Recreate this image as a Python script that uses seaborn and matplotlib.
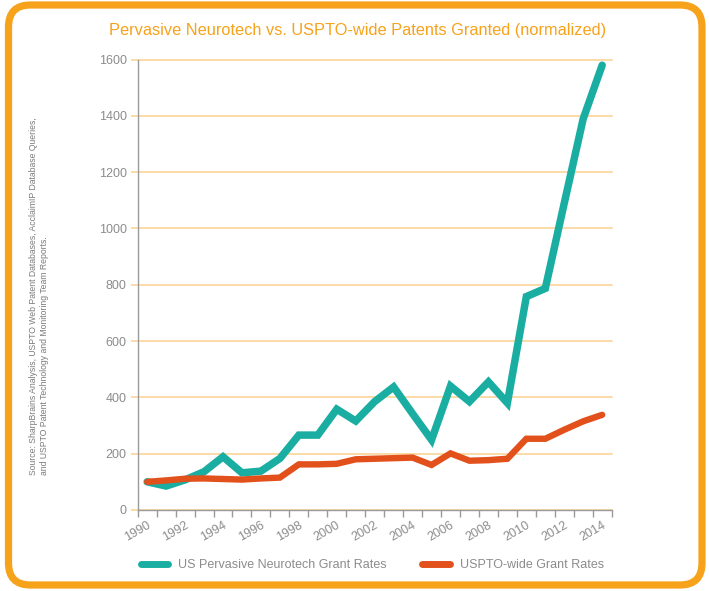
import matplotlib
matplotlib.use("Agg")
import matplotlib.pyplot as plt
from matplotlib.patches import FancyBboxPatch
from matplotlib.transforms import IdentityTransform
from matplotlib.ticker import MultipleLocator
import pandas as pd
import seaborn as sns

sns.set_theme(style="white")
plt.rcParams["font.family"] = ["Liberation Sans", "DejaVu Sans"]

# ---------------------------------------------------------------------------
# data (normalized to 1990 = 100)
# ---------------------------------------------------------------------------
years = list(range(1990, 2015))
neurotech = [100, 85, 107, 136, 189, 132, 138, 183, 266, 266,
             358, 316, 385, 437, 342, 249, 440, 385, 455, 380,
             758, 787, 1090, 1390, 1580]
uspto = [100, 105, 111, 112, 110, 108, 112, 115, 162, 162,
         164, 180, 182, 184, 186, 160, 201, 175, 177, 182,
         253, 253, 285, 315, 338]

series_names = ["US Pervasive Neurotech Grant Rates", "USPTO-wide Grant Rates"]
title = "Pervasive Neurotech vs. USPTO-wide Patents Granted (normalized)"
source = ("Source: SharpBrains Analysis, USPTO Web Patent Databases, AcclaimIP Database Queries,\n"
          "and USPTO Patent Technology and Monitoring Team Reports.")

TEAL = "#1aaea2"
RED = "#e2501c"
ORANGE = "#f7a21b"
GRID = "#fbd9a0"
GRAY = "#8c8c8c"

df = pd.DataFrame({"year": years * 2,
                   "value": neurotech + uspto,
                   "series": [series_names[0]] * len(years) + [series_names[1]] * len(years)})
# each year is drawn at the middle of its slot
df["x"] = df["year"] + 0.5

# ---------------------------------------------------------------------------
# figure
# ---------------------------------------------------------------------------
fig = plt.figure(figsize=(7.09, 5.91), dpi=100)
ax = fig.add_axes([0.1942, 0.1371, 0.6685, 0.7621])

sns.lineplot(data=df, x="x", y="value", hue="series", hue_order=series_names,
             palette=[TEAL, RED], linewidth=5, ax=ax, legend=True)
for line, lw in zip(ax.lines, [5.4, 4.6]):
    line.set_linewidth(lw)
    line.set_solid_joinstyle("miter")

ax.set_xlim(1990, 2015)
ax.set_ylim(0, 1600)
ax.set_xlabel("")
ax.set_ylabel("")

ax.yaxis.set_major_locator(MultipleLocator(200))
ax.xaxis.set_major_locator(MultipleLocator(2))
ax.xaxis.set_minor_locator(MultipleLocator(1))

ax.grid(axis="y", color=GRID, linewidth=1.3)
for gl in ax.get_ygridlines():
    gl.set_clip_on(False)
ax.set_axisbelow(True)

for s in ["top", "right"]:
    ax.spines[s].set_visible(False)
for s in ["left", "bottom"]:
    ax.spines[s].set_color("#9a9a9a")
    ax.spines[s].set_linewidth(1.0)

ax.tick_params(axis="y", which="major", length=5, width=1.3, color=GRID,
               labelsize=9, labelcolor=GRAY, pad=3, left=True)
ax.tick_params(axis="x", which="both", length=5, width=1.0, color="#9a9a9a",
               labelsize=9, labelcolor=GRAY, bottom=True, direction="out", pad=2)
for lab in ax.get_xticklabels():
    lab.set_rotation(30)
    lab.set_ha("center")

# legend below
leg = ax.legend(loc="center", bbox_to_anchor=(0.495, -0.122), ncol=2,
                frameon=False, fontsize=9, handlelength=2.2, columnspacing=2.8,
                handletextpad=0.8)
for h in leg.get_lines():
    h.set_linewidth(5)
for t in leg.get_texts():
    t.set_color(GRAY)

fig.text(0.505, 0.949, title, ha="center", va="center", fontsize=11.8, color=ORANGE)
fig.text(0.055, 0.197, source, rotation=90, ha="center", va="bottom",
         multialignment="left", fontsize=6.2, color="#7a7a7a", linespacing=1.4)

border = FancyBboxPatch((8.5, 6), 693.5, 580, boxstyle="round,pad=0,rounding_size=22",
                        transform=IdentityTransform(), facecolor="none",
                        edgecolor=ORANGE, linewidth=5.2)
fig.patches.append(border)
border.set_figure(fig)

fig.savefig("out.png", dpi=100)
